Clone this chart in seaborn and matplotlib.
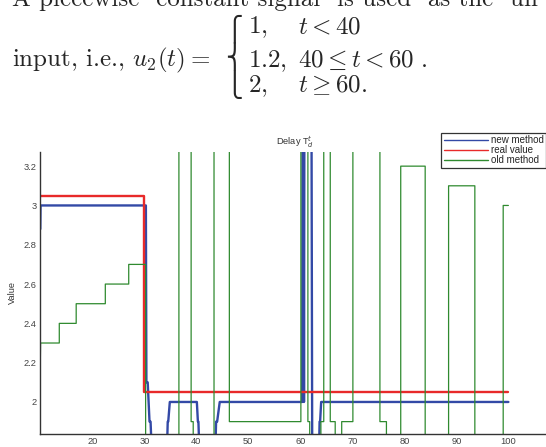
import matplotlib
matplotlib.use("Agg")
import matplotlib.pyplot as plt
import numpy as np
import pandas as pd
import seaborn as sns

# ---------------- data ----------------
LOW, HIGH = 1.5, 4.0   # values that leave the visible y-range

new_t = [10, 10.05, 30.3, 30.4, 30.65, 31.0, 31.2, 31.8, 34.1, 34.5, 34.6, 34.9,
         40.1, 40.3, 40.4, 40.9, 43.4, 43.8, 44.0, 44.5, 60.35, 60.45, 60.6, 60.7,
         60.8, 62.1, 62.3, 63.4, 63.7, 63.8, 64.0, 100]
new_v = [2.88, 3.0, 3.0, 2.1, 2.1, 1.9, 1.9, LOW, LOW, 1.9, 1.9, 2.0,
         2.0, 1.9, 1.9, LOW, LOW, 1.9, 1.9, 2.0, 2.0, HIGH, HIGH, 2.0,
         HIGH, HIGH, LOW, LOW, 1.9, 1.9, 2.0, 2.0]

real_t = [10, 30, 30, 100]
real_v = [3.05, 3.05, 2.05, 2.05]

old_t = [10, 10.05, 13.65, 13.65, 16.9, 16.9, 22.5, 22.5, 27.0, 27.0, 30.25, 30.25,
         36.65, 36.65, 39.0, 39.0, 39.4, 39.4, 43.4, 43.4, 46.35, 46.35, 60.1, 60.1,
         61.45, 61.45, 61.8, 61.8, 63.95, 63.95, 64.5, 64.5, 65.75, 65.75, 66.7, 66.7,
         67.95, 67.95, 70.1, 70.1, 75.3, 75.3, 76.55, 76.55, 79.3, 79.3, 84.0, 84.0,
         88.5, 88.5, 93.55, 93.55, 99.0, 99.0, 100]
old_v = [2.2, 2.3, 2.3, 2.4, 2.4, 2.5, 2.5, 2.6, 2.6, 2.7, 2.7, LOW,
         LOW, HIGH, HIGH, 1.9, 1.9, LOW, LOW, HIGH, HIGH, 1.9, 1.9, HIGH,
         HIGH, 1.9, 1.9, LOW, LOW, 1.9, 1.9, HIGH, HIGH, 1.9, 1.9, LOW,
         LOW, 1.9, 1.9, HIGH, HIGH, 1.9, 1.9, LOW, LOW, 3.2, 3.2, LOW,
         LOW, 3.1, 3.1, LOW, LOW, 3.0, 3.0]

series_names = ["new method", "real value", "old method"]
x_ticks = [20, 30, 40, 50, 60, 70, 80, 90, 100]
y_ticks = [2.0, 2.2, 2.4, 2.6, 2.8, 3.0, 3.2]
y_tick_labels = ["2", "2.2", "2.4", "2.6", "2.8", "3", "3.2"]

df = pd.concat([
    pd.DataFrame({"Time": new_t, "Value": new_v, "series": series_names[0]}),
    pd.DataFrame({"Time": real_t, "Value": real_v, "series": series_names[1]}),
    pd.DataFrame({"Time": old_t, "Value": old_v, "series": series_names[2]}),
], ignore_index=True)

# ---------------- style ----------------
sns.set_theme(style="white")
plt.rcParams['font.family'] = ['Liberation Sans', 'DejaVu Sans']

W, H = 546, 447
fig = plt.figure(figsize=(W / 100, H / 100), dpi=100)
fig.patch.set_facecolor("white")

ax_l, ax_r, ax_t, ax_b = 40.3, 550.0, 152.0, 434.0
ax = fig.add_axes([ax_l / W, 1 - ax_b / H, (ax_r - ax_l) / W, (ax_b - ax_t) / H])

colors = {"new method": "#3349a6", "real value": "#e82a2a", "old method": "#2f8a2f"}
widths = {"new method": 1.7, "real value": 1.7, "old method": 0.9}
for name in series_names:
    sns.lineplot(data=df[df.series == name], x="Time", y="Value", sort=False,
                 estimator=None, color=colors[name], linewidth=widths[name],
                 label=name, ax=ax)

ax.set_xlim(10, 108)
ax.set_ylim(1.837, 3.272)
ax.set_xticks(x_ticks)
ax.set_yticks(y_ticks)
ax.set_yticklabels(y_tick_labels)
sns.despine(ax=ax)
for s in ["left", "bottom"]:
    ax.spines[s].set_color("#333333")
    ax.spines[s].set_linewidth(1.0)
ax.tick_params(direction="in", length=3, width=0.8, color="#333333",
               labelcolor="#444444", labelsize=6.7, pad=2.5)
ax.set_xlabel("Time", fontsize=6.7, color="#333333", labelpad=1.5)
ax.set_ylabel("Value", fontsize=6.7, color="#333333", labelpad=5)
ax.set_title("Delay T$_d^t$", fontsize=6.7, color="#333333", pad=5,
             math_fontfamily="dejavusans")

leg = ax.legend(loc="upper right", bbox_to_anchor=(1.0, 1 - 133 / H),
                bbox_transform=fig.transFigure, borderaxespad=0,
                fontsize=7, frameon=True, fancybox=False, edgecolor="black",
                handlelength=4.6, handletextpad=0.25, labelspacing=0.0,
                borderpad=0.25)
leg.get_frame().set_linewidth(0.9)
for h in leg.get_lines():
    h.set_linewidth(1.0)

# ---------------- text above the chart ----------------
fs = 18
fig.text(12 / W, 1 - 6 / H, "A piecewise  constant signal  is used  as the  un",
         family="cmr10", fontsize=fs, va="baseline", ha="left")
fig.text(12 / W, 1 - 66.7 / H, "input, i.e., $u_2(t) =$", family="cmr10",
         fontsize=fs, va="baseline", ha="left", math_fontfamily="cm")
fig.text(225 / W, 1 - 56.5 / H, "\u23a7\n\u23a8\n\u23a9",
         family=["DejaVu Sans", "DejaVu Serif"],
         fontsize=17, va="center", ha="left", linespacing=0.98)
rows_y = [33.0, 66.7, 92.5]
col1 = [r"$1,$", r"$1.2,$", r"$2,$"]
col2 = [r"$t<40$", r"$40\leq t<60\ .$", r"$t\geq 60.$"]
for y, a, b in zip(rows_y, col1, col2):
    fig.text(248 / W, 1 - y / H, a, fontsize=fs, va="baseline", ha="left",
             math_fontfamily="cm")
    fig.text(298 / W, 1 - y / H, b, fontsize=fs, va="baseline", ha="left",
             math_fontfamily="cm")

fig.savefig("out.png", dpi=100)
